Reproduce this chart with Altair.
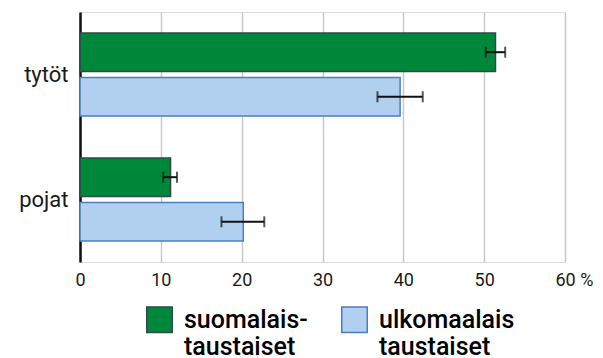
import altair as alt
import pandas as pd

# Shares (%) by group and background, with confidence bounds
groups = ["tytöt", "pojat"]
series = ["suomalais-\ntaustaiset", "ulkomaalais\ntaustaiset"]
share_fin = [51.4, 11.2]
share_for = [39.6, 20.2]
low_fin = [50.2, 10.3]
high_fin = [52.6, 12.0]
low_for = [36.8, 17.5]
high_for = [42.4, 22.8]
x_ticks = [0, 10, 20, 30, 40, 50, 60]

rows = []
for i, g in enumerate(groups):
    rows.append({"ryhmä": g, "tausta": series[0], "osuus": share_fin[i], "ala": low_fin[i], "ylä": high_fin[i]})
    rows.append({"ryhmä": g, "tausta": series[1], "osuus": share_for[i], "ala": low_for[i], "ylä": high_for[i]})
df = pd.DataFrame(rows)

FONT = "Roboto"

y_enc = alt.Y("ryhmä:N", sort=groups, title=None,
              scale=alt.Scale(paddingInner=0.336, paddingOuter=0.168),
              axis=alt.Axis(domain=True, domainColor="#111111", domainWidth=2.5,
                            ticks=False, labelFontSize=22, labelColor="#1a1a1a",
                            labelPadding=12, labelFont=FONT, grid=False))
yoff = alt.YOffset("tausta:N", sort=series, scale=alt.Scale(paddingInner=0.14, paddingOuter=0))

x_scale = alt.Scale(domain=[0, 60], nice=False)
x_axis = alt.Axis(values=x_ticks, domain=False, ticks=False, grid=True,
                  gridColor="#c9c9c9", gridWidth=1.5, labelFontSize=18,
                  labelFont=FONT, labelColor="#1a1a1a", labelPadding=9,
                  labelExpr="datum.value == 60 ? '60 %' : datum.label",
                  labelAlign=alt.ConditionalAxisLabelAlign(
                      condition={"test": "datum.value == 60", "value": "left"}, value="center"),
                  labelOffset=alt.ConditionalAxisNumber(
                      condition={"test": "datum.value == 60", "value": -10}, value=0),
                  labelBound=False, labelOverlap=False)

colors = alt.Scale(domain=series, range=["#00883a", "#b1d0ef"])
strokes = alt.Scale(domain=series, range=["#2c4a4c", "#4b7fbc"])

legend = alt.Legend(title=None, orient="none", direction="horizontal",
                    legendX=66, legendY=294, symbolType="square", symbolSize=650,
                    symbolStrokeWidth=1.5, labelFontSize=25, labelFont=FONT,
                    labelFontWeight=500, labelColor="#000000", labelOffset=11,
                    labelLimit=300, columnPadding=30, labelBaseline="middle",
                    labelExpr="split(datum.label, '\\n')")

bars = alt.Chart(df).mark_bar(strokeWidth=1.5).encode(
    y=y_enc, yOffset=yoff,
    x=alt.X("osuus:Q", scale=x_scale, axis=x_axis, title=None),
    fill=alt.Fill("tausta:N", scale=colors, sort=series, legend=legend),
    stroke=alt.Stroke("tausta:N", scale=strokes, sort=series, legend=legend),
)

err = alt.Chart(df).mark_rule(color="#111111", strokeWidth=2).encode(
    y=alt.Y("ryhmä:N", sort=groups), yOffset=yoff,
    x=alt.X("ala:Q", scale=x_scale), x2="ylä:Q",
)
cap_lo = alt.Chart(df).mark_tick(color="#111111", thickness=2, size=11, orient="vertical").encode(
    y=alt.Y("ryhmä:N", sort=groups), yOffset=yoff, x=alt.X("ala:Q", scale=x_scale),
)
cap_hi = alt.Chart(df).mark_tick(color="#111111", thickness=2, size=11, orient="vertical").encode(
    y=alt.Y("ryhmä:N", sort=groups), yOffset=yoff, x=alt.X("ylä:Q", scale=x_scale),
)

chart = (bars + err + cap_lo + cap_hi).properties(
    width=485, height=250,
    padding={"left": 80, "top": 12, "right": 38, "bottom": 96},
    autosize=alt.AutoSizeParams(type="none"),
).configure_view(stroke=None).configure(background="white")

chart.save("out.html", embed_options={"renderer": "svg", "actions": False})
